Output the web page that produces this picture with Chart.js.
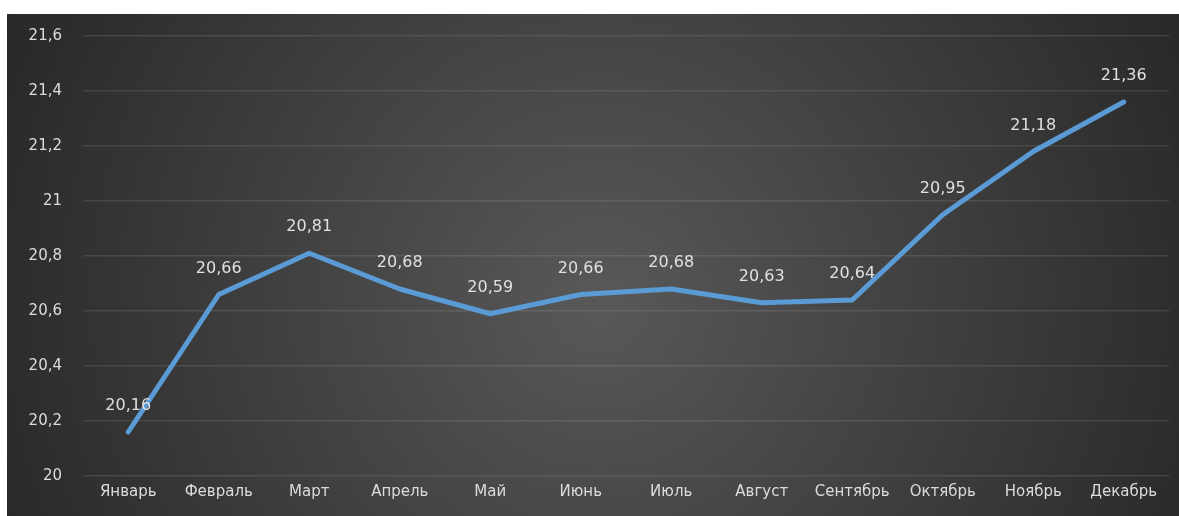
<!DOCTYPE html>
<html>
<head>
<meta charset="utf-8">
<script src="https://cdn.jsdelivr.net/npm/chart.js@4"></script>
<style>
  html, body { margin: 0; padding: 0; background: #fff; }
  #wrap { width: 1179px; height: 516px; }
</style>
</head>
<body>
<div id="wrap"><canvas id="tempChart" width="1179" height="516"></canvas></div>
<script>
// Months and values
const months = ['Январь', 'Февраль', 'Март', 'Апрель', 'Май', 'Июнь', 'Июль', 'Август', 'Сентябрь', 'Октябрь', 'Ноябрь', 'Декабрь'];
const values = [20.16, 20.66, 20.81, 20.68, 20.59, 20.66, 20.68, 20.63, 20.64, 20.95, 21.18, 21.36];
const yMin = 20;
const yMax = 21.6;
const yStep = 0.2;

const fmt = v => String(Math.round(v * 100) / 100).replace('.', ',');

// dark panel with a soft radial light in the middle
const backgroundPlugin = {
    id: 'panel',
    beforeDraw(chart) {
        const c = chart.ctx;
        c.save();
        c.fillStyle = '#ffffff';
        c.fillRect(0, 0, chart.width, chart.height);
        const x0 = 7, y0 = 14, x1 = chart.width, y1 = chart.height;
        const g = c.createRadialGradient(600, 300, 20, 600, 300, 650);
        g.addColorStop(0, '#575757');
        g.addColorStop(1, '#282828');
        c.fillStyle = g;
        c.fillRect(x0, y0, x1 - x0, y1 - y0);
        c.restore();
    }
};

// value labels above each point
const labelPlugin = {
    id: 'valueLabels',
    afterDatasetsDraw(chart) {
        const c = chart.ctx;
        const meta = chart.getDatasetMeta(0);
        c.save();
        c.font = '16px "DejaVu Sans"';
        c.fillStyle = '#e0e0e0';
        c.textAlign = 'center';
        c.textBaseline = 'middle';
        meta.data.forEach((pt, i) => {
            c.fillText(fmt(values[i]), pt.x, pt.y - 26);
        });
        c.restore();
    }
};

const ctx = document.getElementById('tempChart').getContext('2d');
const chart = new Chart(ctx, {
    type: 'line',
    data: {
        labels: months,
        datasets: [{
            data: values,
            borderColor: '#5b9bd5',
            borderWidth: 5,
            borderCapStyle: 'round',
            borderJoinStyle: 'round',
            pointRadius: 0,
            fill: false,
            tension: 0
        }]
    },
    options: {
        responsive: false,
        animation: false,
        layout: { padding: { top: 36, right: 10, left: 0, bottom: 0 } },
        plugins: {
            legend: { display: false },
            tooltip: { enabled: false }
        },
        scales: {
            x: {
                offset: true,
                grid: { display: false, drawTicks: false },
                border: { display: false },
                ticks: {
                    color: '#dcdcdc',
                    font: { family: 'DejaVu Sans', size: 15 },
                    padding: 7,
                    maxRotation: 0,
                    autoSkip: false
                },
                afterFit(scale) { scale.height = 40; }
            },
            y: {
                min: yMin,
                max: yMax,
                grid: { color: 'rgba(255,255,255,0.1)', lineWidth: 1.5, drawTicks: false },
                border: { display: false },
                ticks: {
                    stepSize: yStep,
                    color: '#dcdcdc',
                    font: { family: 'DejaVu Sans', size: 15 },
                    padding: 21,
                    callback: v => fmt(v)
                },
                afterFit(scale) { scale.width = 83; }
            }
        }
    },
    plugins: [backgroundPlugin, labelPlugin]
});
</script>
</body>
</html>
